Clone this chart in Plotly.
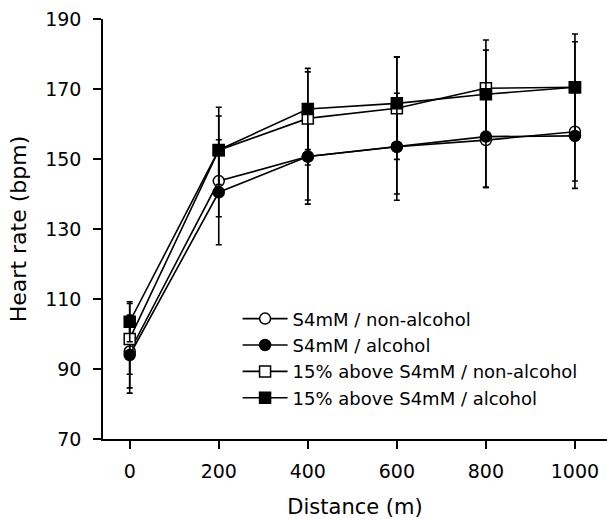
import plotly.graph_objects as go

distance = [0, 200, 400, 600, 800, 1000]

s4_non = [95.0, 143.7, 150.7, 153.5, 155.4, 157.8]
s4_non_sd = [10.4, 10.2, 12.4, 15.3, 13.5, 14.1]
s4_alc = [94.0, 140.5, 150.7, 153.5, 156.4, 156.6]
s4_alc_sd = [10.9, 15.0, 13.6, 13.5, 14.5, 15.0]
above_non = [98.6, 152.5, 161.6, 164.5, 170.2, 170.5]
above_non_sd = [10.1, 9.8, 13.3, 14.6, 13.8, 13.0]
above_alc = [103.5, 152.6, 164.3, 165.9, 168.5, 170.5]
above_alc_sd = [5.7, 12.2, 11.6, 13.3, 12.6, 15.2]

series_names = ["S4mM / non-alcohol", "S4mM / alcohol",
                "15% above S4mM / non-alcohol", "15% above S4mM / alcohol"]
x_ticks = [0, 200, 400, 600, 800, 1000]
y_ticks = [70, 90, 110, 130, 150, 170, 190]

FONT = "DejaVu Sans"

specs = [
    (s4_non, s4_non_sd, "circle", "white"),
    (s4_alc, s4_alc_sd, "circle", "black"),
    (above_non, above_non_sd, "square", "white"),
    (above_alc, above_alc_sd, "square", "black"),
]

fig = go.Figure()
for name, (vals, sd, sym, fill) in zip(series_names, specs):
    fig.add_trace(go.Scatter(
        x=distance, y=vals, name=name, mode="lines+markers",
        line=dict(color="black", width=1.6),
        marker=dict(symbol=sym, size=11, color=fill,
                    line=dict(color="black", width=1.5)),
        error_y=dict(type="data", array=sd, visible=True, color="black",
                     thickness=1.6, width=3),
        cliponaxis=False,
    ))

fig.update_layout(
    width=607, height=519,
    margin=dict(l=103, r=0, t=19, b=80),
    plot_bgcolor="white", paper_bgcolor="white",
    font=dict(family=FONT, color="black", size=19),
    showlegend=True,
    legend=dict(x=0.267, y=0.33, xanchor="left", yanchor="top",
                bgcolor="rgba(0,0,0,0)", font=dict(size=18, family=FONT),
                itemwidth=45, tracegroupgap=0),
    xaxis=dict(range=[-60, 1072], tickvals=x_ticks, ticks="outside", ticklen=8,
               tickwidth=1.5, tickcolor="black", showline=True, linecolor="black",
               linewidth=1.5, showgrid=False, zeroline=False,
               tickfont=dict(size=19), ticklabelstandoff=6,
               title=dict(text="Distance (m)", font=dict(size=21), standoff=20)),
    yaxis=dict(range=[70, 190], tickvals=y_ticks, ticks="outside", ticklen=8,
               tickwidth=1.5, tickcolor="black", showline=True, linecolor="black",
               linewidth=1.5, showgrid=False, zeroline=False,
               tickfont=dict(size=19), ticklabelstandoff=8,
               title=dict(text="Heart rate (bpm)", font=dict(size=22), standoff=12)),
)

fig.write_html("out.html")
